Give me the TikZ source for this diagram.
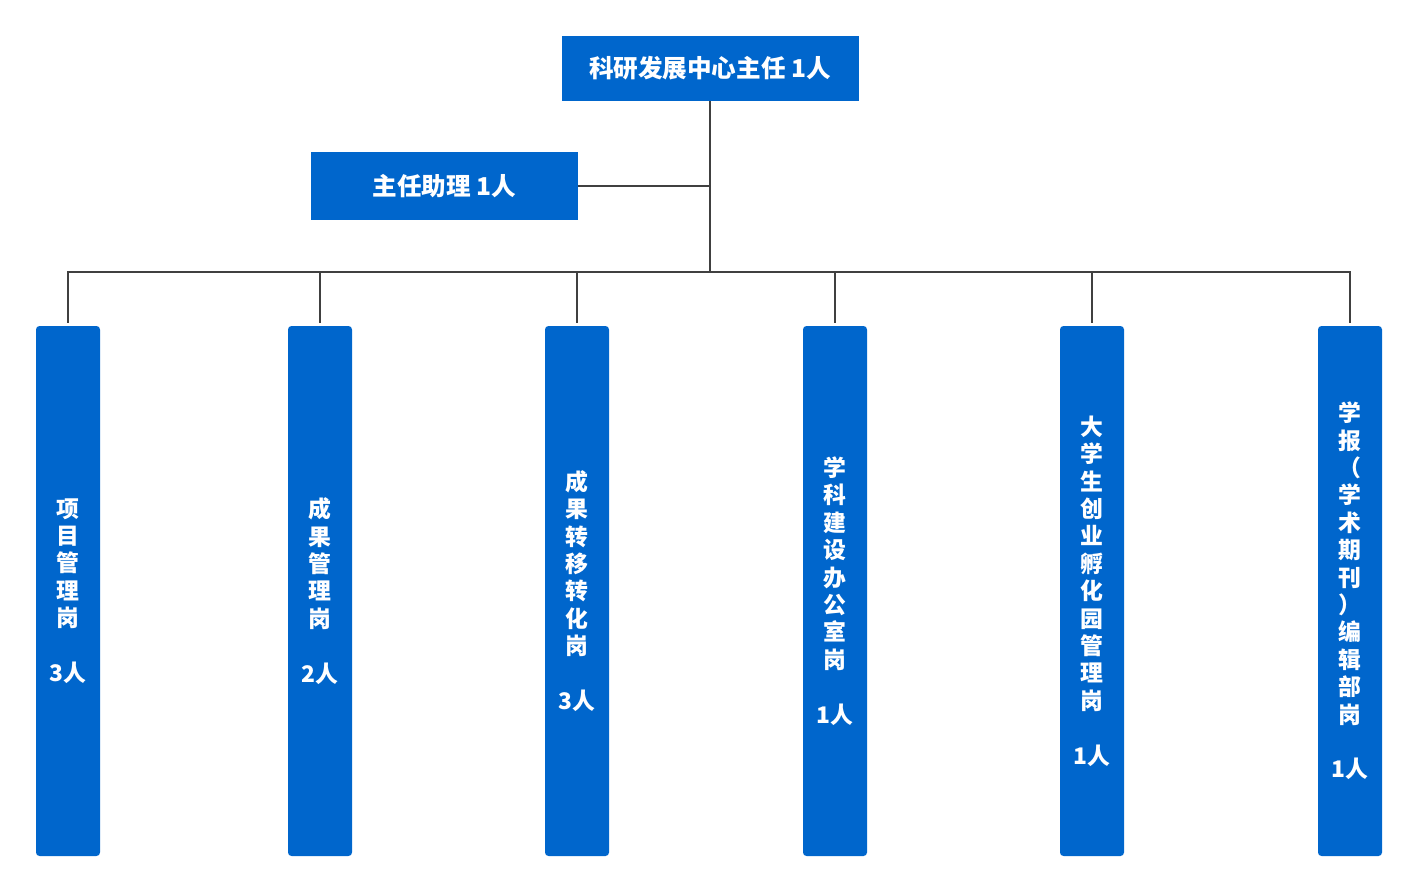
\documentclass[tikz,border=0pt]{standalone}
\usepackage{fontspec}
\newfontfamily\cjk{Noto Sans CJK SC}
\definecolor{boxblue}{HTML}{0066CC}
\definecolor{linegray}{HTML}{404040}
\newdimen\px
\px=0.02cm
\tikzset{
	headbox/.style={fill=boxblue, text=white, minimum height=65\px, inner sep=0pt,
		font=\cjk\bfseries\fontsize{14}{16}\selectfont},
	postbox/.style={fill=boxblue, text=white, rounded corners=2pt, minimum width=64\px, minimum height=530\px,
		inner sep=0pt, align=center, font=\cjk\bfseries\fontsize{13}{15.6}\selectfont},
	link/.style={draw=linegray, line width=1.3pt}
}
\newcommand{\post}[3] % name, x in px, text
{
	% vertical post box
	\node[postbox] (#1) at (#2,591) {#3};
	% drop line from the bus
	\draw[link, shorten >=3\px] (bus) -| (#1.north);
}
\begin{document}
\begin{tikzpicture}[x=0.02cm, y=-0.02cm]
	% canvas 1418 x 892 px
	\useasboundingbox (0,0) rectangle (1418,892);
	% director and assistant
	\node[headbox, minimum width=297\px] (head) at (710,68.5) {科研发展中心主任\ 1人};
	\node[headbox, minimum width=267\px, minimum height=68\px] (assist) at (444.5,186) {主任助理\ 1人};
	\coordinate (bus) at (710,272);
	\draw[link] (head.south) -- (bus);
	\draw[link] (assist.east) -- (assist.east -| bus);
	% posts
	\post{xmgl}{68}{项\\目\\管\\理\\岗\\\mbox{}\\3人}
	\post{cggl}{320}{成\\果\\管\\理\\岗\\\mbox{}\\2人}
	\post{cgzh}{577}{成\\果\\转\\移\\转\\化\\岗\\\mbox{}\\3人}
	\post{xkjs}{835}{学\\科\\建\\设\\办\\公\\室\\岗\\\mbox{}\\1人}
	\post{cyfh}{1092}{大\\学\\生\\创\\业\\孵\\化\\园\\管\\理\\岗\\\mbox{}\\1人}
	\post{xbbj}{1350}{学\\报\\（\\学\\术\\期\\刊\\）\\编\\辑\\部\\岗\\\mbox{}\\1人}
\end{tikzpicture}
\end{document}
